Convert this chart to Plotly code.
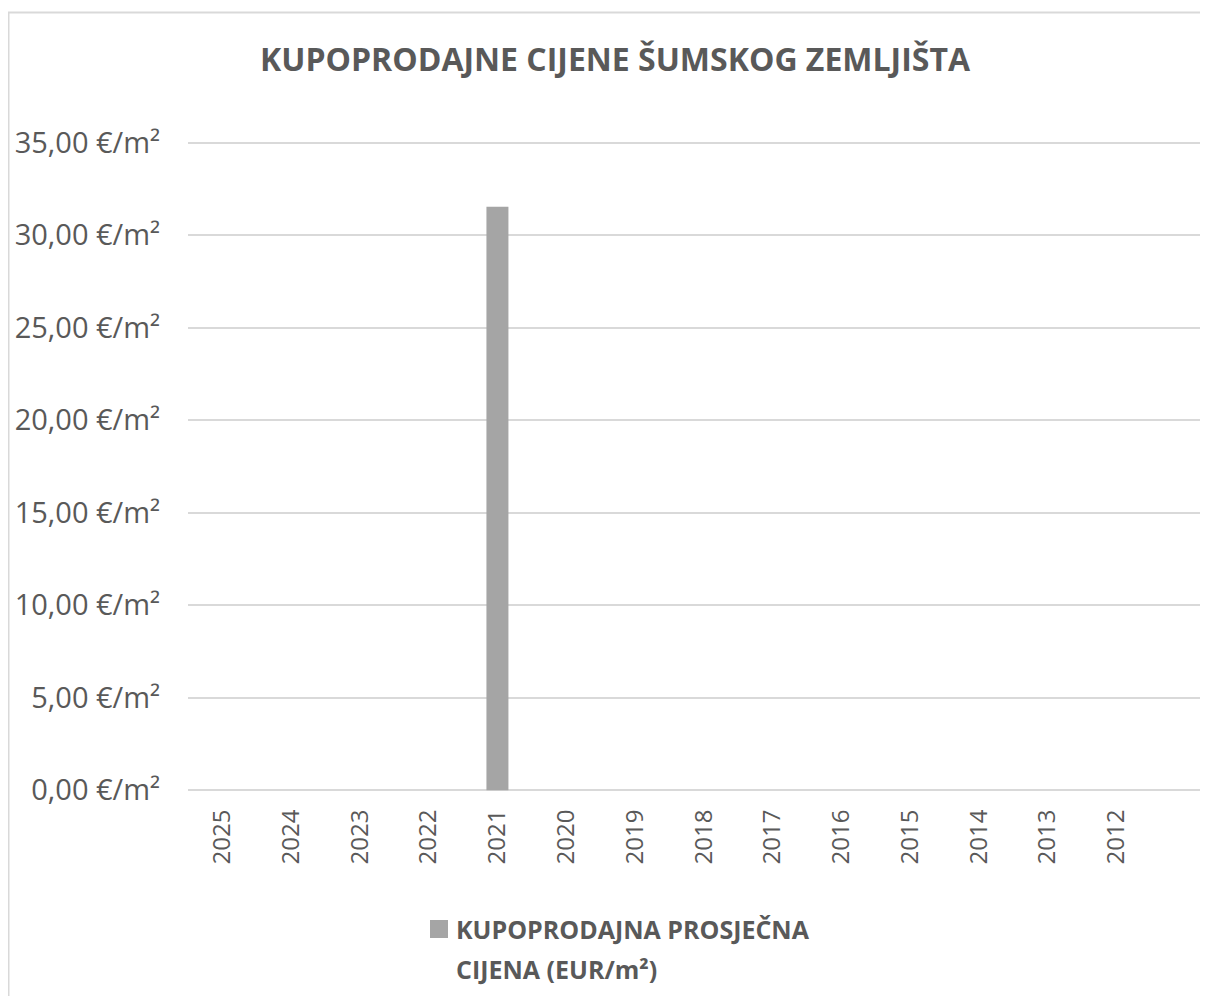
import plotly.graph_objects as go

years = ["2025", "2024", "2023", "2022", "2021", "2020", "2019", "2018",
         "2017", "2016", "2015", "2014", "2013", "2012", ""]
prices = [None, None, None, None, 31.55, None, None, None,
          None, None, None, None, None, None, None]
y_ticks = [0, 5, 10, 15, 20, 25, 30, 35]
y_tick_labels = ["0,00 €/m²", "5,00 €/m²", "10,00 €/m²", "15,00 €/m²",
                 "20,00 €/m²", "25,00 €/m²", "30,00 €/m²", "35,00 €/m²"]
title_text = "KUPOPRODAJNE CIJENE ŠUMSKOG ZEMLJIŠTA"
legend_lines = ["KUPOPRODAJNA PROSJEČNA", "CIJENA (EUR/m²)"]

# page body has an 8px margin; target pixel coordinates are shifted by OFF
OFF = 8
W, H = 1208, 996
L, R, T, B = 188 - OFF, 0, 133, 212
pw, ph = W - L - R, H - T - B

txt = "#595959"
bar_color = "#a5a5a5"


def px_x(p):
    return (p - OFF - L) / pw


def px_y(p):
    return (H - B - (p - OFF)) / ph


fig = go.Figure()
fig.add_trace(go.Bar(
    x=list(range(len(years))), y=prices, name=" ".join(legend_lines),
    marker=dict(color=bar_color, line=dict(width=0)),
    width=0.32, showlegend=False,
))

fig.update_layout(
    width=W, height=H,
    margin=dict(l=L, r=R, t=T, b=B, autoexpand=False),
    paper_bgcolor="white", plot_bgcolor="white",
    font=dict(family="Open Sans", color=txt),
    title=dict(text="<b>" + title_text + "</b>", x=px_x(615), xref="paper",
               xanchor="center", y=1 - (60 - OFF) / H, yanchor="middle",
               font=dict(size=32, color=txt, family="Open Sans")),
    xaxis=dict(
        type="linear", range=[-0.5, 14.45],
        tickmode="array", tickvals=list(range(len(years))), ticktext=years,
        tickangle=-90, tickfont=dict(size=24, color=txt),
        showgrid=False, zeroline=False, showline=False,
        ticks="outside", ticklen=7, tickcolor="rgba(0,0,0,0)",
    ),
    yaxis=dict(
        range=[-0.1, 35.1], tickmode="array", tickvals=y_ticks,
        ticktext=y_tick_labels,
        tickfont=dict(size=29, color=txt),
        showgrid=True, gridcolor="#d9d9d9", gridwidth=2,
        zeroline=False, showline=False,
        ticks="outside", ticklen=21, tickcolor="rgba(0,0,0,0)",
    ),
    showlegend=False,
)

# legend key
fig.add_shape(type="rect", xref="paper", yref="paper",
              x0=px_x(430), x1=px_x(448), y0=px_y(938), y1=px_y(920),
              line=dict(width=0), fillcolor=bar_color)
fig.add_annotation(text="<b>" + legend_lines[0] + "</b>", xref="paper", yref="paper",
                   x=px_x(454), y=px_y(929), xanchor="left", yanchor="middle",
                   showarrow=False, font=dict(size=25, color=txt, family="Open Sans"))
fig.add_annotation(text="<b>" + legend_lines[1] + "</b>", xref="paper", yref="paper",
                   x=px_x(454), y=px_y(969), xanchor="left", yanchor="middle",
                   showarrow=False, font=dict(size=25, color=txt, family="Open Sans"))

# chart area border
fig.add_shape(type="rect", xref="paper", yref="paper",
              x0=px_x(8.5), x1=px_x(1260), y0=px_y(12.5), y1=px_y(1100),
              line=dict(color="#d9d9d9", width=2), fillcolor="rgba(0,0,0,0)",
              layer="below")

fig.write_html("out.html")
